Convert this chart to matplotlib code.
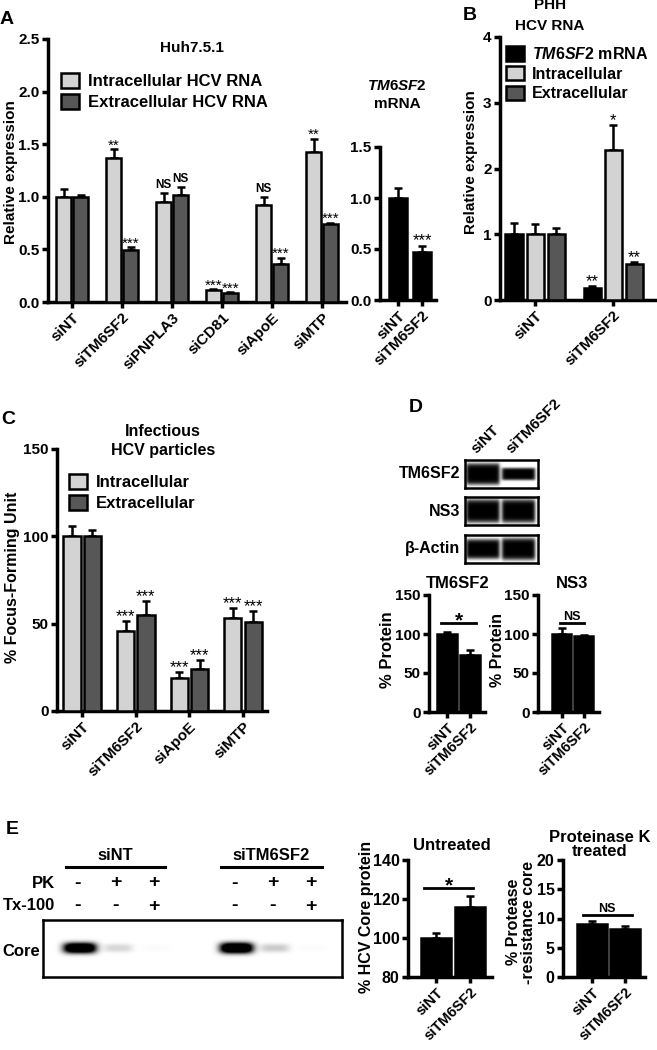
import numpy as np
import matplotlib
matplotlib.use("Agg")
import matplotlib.pyplot as plt
from matplotlib.transforms import blended_transform_factory

plt.rcParams["font.family"] = ["Liberation Sans", "DejaVu Sans"]
plt.rcParams["font.weight"] = "bold"
plt.rcParams["axes.labelweight"] = "bold"
plt.rcParams["mathtext.fontset"] = "custom"
plt.rcParams["mathtext.it"] = "Liberation Sans:italic:bold"
plt.rcParams["mathtext.rm"] = "Liberation Sans:bold"

LIGHT = "#d3d3d3"
DARK = "#575757"

# ---- panel A: Huh7.5.1 HCV RNA
a_groups = ["siNT", "siTM6SF2", "siPNPLA3", "siCD81", "siApoE", "siMTP"]
a_intra = [1.00, 1.37, 0.95, 0.11, 0.92, 1.43]
a_intra_err = [0.07, 0.08, 0.085, 0.01, 0.08, 0.12]
a_extra = [1.00, 0.49, 1.02, 0.086, 0.365, 0.74]
a_extra_err = [0.02, 0.03, 0.07, 0.005, 0.055, 0.01]
a_intra_sig = ["", "**", "NS", "***", "NS", "**"]
a_extra_sig = ["", "***", "NS", "***", "***", "***"]

# TM6SF2 mRNA inset
m_groups = ["siNT", "siTM6SF2"]
m_vals = [1.00, 0.47]
m_err = [0.10, 0.055]
m_sig = ["", "***"]

# ---- panel B: PHH
b_groups = ["siNT", "siTM6SF2"]
b_mrna = [1.00, 0.19]
b_mrna_err = [0.17, 0.025]
b_intra = [1.00, 2.28]
b_intra_err = [0.16, 0.38]
b_extra = [1.00, 0.55]
b_extra_err = [0.10, 0.03]
b_mrna_sig = ["", "**"]
b_intra_sig = ["", "*"]
b_extra_sig = ["", "**"]

# ---- panel C: infectious particles
c_groups = ["siNT", "siTM6SF2", "siApoE", "siMTP"]
c_intra = [100, 46, 19, 53]
c_intra_err = [6, 5.5, 3.5, 6]
c_extra = [100, 55, 24, 51]
c_extra_err = [3.5, 8, 5, 6.5]
c_intra_sig = ["", "***", "***", "***"]
c_extra_sig = ["", "***", "***", "***"]

# ---- panel D: western quantification
d_groups = ["siNT", "siTM6SF2"]
d_tm6_vals = [100, 73.7]
d_tm6_err = [2.8, 5.6]
d_ns3_vals = [100, 97.7]
d_ns3_err = [7.5, 1.3]
d_blot_rows = ["TM6SF2", "NS3", "\u03b2-Actin"]
d_band_thick = [[0.78, 0.45], [0.85, 0.85], [0.72, 0.80]]

# ---- panel E: protease protection
e_groups = ["siNT", "siTM6SF2"]
e_pk = ["-", "+", "+", "-", "+", "+"]
e_tx = ["-", "-", "+", "-", "-", "+"]
e_core_band = [0.95, 0.10, 0.01, 1.00, 0.13, 0.01]
e_untr_vals = [100, 116]
e_untr_err = [2.6, 5.5]
e_pk_vals = [9.14, 8.17]
e_pk_err = [0.5, 0.6]

W, H = 657, 1050
fig = plt.figure(figsize=(W / 100, H / 100), dpi=100)


def px_axes(l, t, r, b):
    return fig.add_axes([l / W, 1 - b / H, (r - l) / W, (b - t) / H])


def ftext(x, y, s, **kw):
    kw.setdefault("ha", "center")
    kw.setdefault("va", "center")
    kw.setdefault("fontweight", "bold")
    return fig.text(x / W, 1 - y / H, s, **kw)


def style(ax, fs=11):
    for s in ["top", "right"]:
        ax.spines[s].set_visible(False)
    for s in ["left", "bottom"]:
        ax.spines[s].set_linewidth(2.5)
    ax.tick_params(width=2.5, length=4.5, labelsize=fs, pad=1.5)


def bars(ax, x, vals, err, color, width, sig=None, fs=12):
    b = ax.bar(x, vals, width, color=color, edgecolor="black", linewidth=1.8, zorder=3)
    ax.errorbar(x, vals, yerr=[np.zeros(len(vals)), err], fmt="none", ecolor="black",
                elinewidth=1.8, capsize=3, capthick=1.8, zorder=2)
    if sig is not None:
        span = ax.get_ylim()[1] - ax.get_ylim()[0]
        for xi, v, e, s in zip(x, vals, err, sig):
            if s == "NS":
                ax.text(xi, v + e + span * 0.008, s, ha="center", va="bottom",
                        fontsize=8.5, fontweight="bold", zorder=4)
            elif s:
                ax.text(xi, v + e - span * 0.012, s, ha="center", va="bottom",
                        fontsize=fs, fontweight="normal", zorder=4)
    return b


def xlabels(ax, labels, fs=11):
    ax.set_xticks(np.arange(len(labels)))
    ax.set_xticklabels(labels, rotation=45, ha="right", rotation_mode="anchor", fontsize=fs)


def sig_bracket(ax, x0, x1, y, s, fs=11):
    ax.plot([x0, x1], [y, y], color="black", lw=2, clip_on=False)
    if s == "NS":
        ax.text((x0 + x1) / 2, y, s, ha="center", va="bottom", fontsize=fs, fontweight="bold")
    else:
        span = ax.get_ylim()[1] - ax.get_ylim()[0]
        ax.text((x0 + x1) / 2, y - span * 0.06, s, ha="center", va="bottom", fontsize=fs,
                fontweight="bold")


# ================= A =================
ax = px_axes(48, 39, 346, 302)
ax.set_ylim(0, 2.5)
ax.set_xlim(-0.48, 5.48)
style(ax)
x = np.arange(len(a_groups))
h1 = bars(ax, x - 0.17, a_intra, a_intra_err, LIGHT, 0.29, a_intra_sig, fs=11)
h2 = bars(ax, x + 0.17, a_extra, a_extra_err, DARK, 0.29, a_extra_sig, fs=11)
ax.set_yticks([0, 0.5, 1.0, 1.5, 2.0, 2.5])
ax.set_yticklabels(["0.0", "0.5", "1.0", "1.5", "2.0", "2.5"])
xlabels(ax, a_groups)
ax.legend([h1, h2], ["Intracellular HCV RNA", "Extracellular HCV RNA"], loc="upper left",
          bbox_to_anchor=(61 / W, 1 - 73 / H), bbox_transform=fig.transFigure, frameon=False,
          fontsize=12, handlelength=1.1, handleheight=1.0, handletextpad=0.5,
          labelspacing=0.3, borderpad=0, borderaxespad=0)
ftext(192, 48, "Huh7.5.1", fontsize=11)
ftext(11, 172, "Relative expression", rotation=90, fontsize=11)
ftext(7, 19, "A", fontsize=14)

# TM6SF2 mRNA inset
ax = px_axes(380, 147, 436, 300)
ax.set_ylim(0, 1.5)
ax.set_xlim(-0.75, 1.58)
style(ax)
bars(ax, np.arange(2), m_vals, m_err, "black", 0.75, m_sig)
ax.set_yticks([0, 0.5, 1.0, 1.5])
ax.set_yticklabels(["0.0", "0.5", "1.0", "1.5"])
xlabels(ax, m_groups)
ftext(397, 86, r"$\it{TM6SF2}$", fontsize=11)
ftext(397, 104, "mRNA", fontsize=11)

# ================= B =================
ax = px_axes(500, 37, 657, 300)
ax.set_ylim(0, 4)
ax.set_xlim(-0.45, 1.56)
style(ax)
x = np.arange(2)
g1 = bars(ax, x - 0.27, b_mrna, b_mrna_err, "black", 0.22, b_mrna_sig)
g2 = bars(ax, x, b_intra, b_intra_err, LIGHT, 0.22, b_intra_sig)
g3 = bars(ax, x + 0.27, b_extra, b_extra_err, DARK, 0.22, b_extra_sig)
ax.set_yticks([0, 1, 2, 3, 4])
xlabels(ax, b_groups)
ax.legend([g1, g2, g3], [r"$\it{TM6SF2}$ mRNA", "Intracellular", "Extracellular"],
          loc="upper left", bbox_to_anchor=(506 / W, 1 - 46 / H), bbox_transform=fig.transFigure,
          frameon=False, fontsize=11.5, handlelength=1.1, handleheight=1.0, handletextpad=0.5,
          labelspacing=0.25, borderpad=0, borderaxespad=0)
ftext(550, 5, "PHH", fontsize=11)
ftext(550, 26, "HCV RNA", fontsize=11)
ftext(471, 162, "Relative expression", rotation=90, fontsize=11)
ftext(470, 16, "B", fontsize=14)

# ================= C =================
ax = px_axes(57, 449, 267, 711)
ax.set_ylim(0, 150)
ax.set_xlim(-0.47, 3.45)
style(ax, 11)
x = np.arange(len(c_groups))
k1 = bars(ax, x - 0.19, c_intra, c_intra_err, LIGHT, 0.32, c_intra_sig)
k2 = bars(ax, x + 0.19, c_extra, c_extra_err, DARK, 0.32, c_extra_sig)
ax.set_yticks([0, 50, 100, 150])
xlabels(ax, c_groups, 11)
ax.legend([k1, k2], ["Intracellular", "Extracellular"], loc="upper left",
          bbox_to_anchor=(69 / W, 1 - 474 / H), bbox_transform=fig.transFigure, frameon=False,
          fontsize=12, handlelength=1.1, handleheight=1.0, handletextpad=0.5,
          labelspacing=0.3, borderpad=0, borderaxespad=0)
ftext(163, 432, "Infectious", fontsize=11.5)
ftext(163, 451, "HCV particles", fontsize=11.5)
ftext(13, 577, "% Focus-Forming Unit", rotation=90, fontsize=11.5)
ftext(8, 419, "C", fontsize=14)

# ================= D blots =================
def blot_image(thick, nw=220, nh=84):
    img = np.ones((nh, nw))
    xs = np.linspace(0, 1, nw)
    ys = np.linspace(-1, 1, nh)
    for i, t in enumerate(thick):
        x0, x1 = 0.02 + i * 0.49, 0.47 + i * 0.49
        hp = 1 / (1 + np.exp(-(xs - x0) / 0.012)) / (1 + np.exp((xs - x1) / 0.012))
        vp = np.exp(-(np.abs(ys) / t) ** 6)
        img -= np.outer(vp, hp)
    return np.clip(img, 0, 1)


row_px = [(460, 488), (497, 525), (535, 563)]
for name, th, (t, b) in zip(d_blot_rows, d_band_thick, row_px):
    bx = px_axes(465, t, 538, b)
    bx.imshow(blot_image(th), cmap="gray", vmin=0, vmax=1, aspect="auto",
              interpolation="bilinear")
    bx.set_xticks([])
    bx.set_yticks([])
    for s in bx.spines.values():
        s.set_linewidth(1.8)
    ftext(460, (t + b) / 2, name, ha="right", fontsize=11.5)
ftext(479, 456, "siNT", rotation=45, ha="left", va="bottom", rotation_mode="anchor", fontsize=11)
ftext(514, 456, "siTM6SF2", rotation=45, ha="left", va="bottom", rotation_mode="anchor",
      fontsize=11)
ftext(416, 407, "D", fontsize=14)

# D quantification
ax = px_axes(429, 595, 485, 712)
ax.set_ylim(0, 150)
ax.set_xlim(-0.78, 1.65)
style(ax, 11)
bars(ax, np.arange(2), d_tm6_vals, d_tm6_err, "black", 0.83)
ax.set_yticks([0, 50, 100, 150])
xlabels(ax, d_groups, 10.5)
sig_bracket(ax, -0.25, 1.25, 114, "*", 15)
ftext(458, 584, "TM6SF2", fontsize=12)
ftext(387, 650, "% Protein", rotation=90, fontsize=12)

ax = px_axes(538, 595, 599, 712)
ax.set_ylim(0, 150)
ax.set_xlim(-1.09, 1.7)
style(ax, 11)
bars(ax, np.arange(2), d_ns3_vals, d_ns3_err, "black", 0.86)
ax.set_yticks([0, 50, 100, 150])
xlabels(ax, d_groups, 10.5)
sig_bracket(ax, -0.1, 1.0, 114, "NS", 9)
ftext(572, 584, "NS3", fontsize=12)
ftext(497, 650, "% Protein", rotation=90, fontsize=11.5)

# ================= E blot =================
lane_x = np.array([0, 1, 2, 4.1, 5.1, 6.1])
bx = px_axes(43, 920, 342, 977)
nx, ny = 600, 114
gx = np.linspace(-0.89, 6.92, nx)
gy = np.linspace(0, 1, ny)
core = np.ones((ny, nx))
for lx, inten in zip(lane_x, e_core_band):
    hp = np.exp(-(np.abs(gx - lx - 0.07) / (0.38 + 0.06 * inten)) ** 4)
    vp = np.exp(-(np.abs(gy - 0.5) / (0.07 + 0.025 * inten)) ** 2.5)
    core -= 1.6 * inten * np.outer(vp, hp)
bx.imshow(np.clip(core, 0, 1), cmap="gray", vmin=0, vmax=1, aspect="auto",
          extent=[-0.89, 6.92, 0, 1], interpolation="bilinear")
bx.set_xlim(-0.89, 6.92)
bx.set_ylim(0, 1)
bx.set_xticks([])
bx.set_yticks([])
for s in bx.spines.values():
    s.set_linewidth(1.8)
tr = blended_transform_factory(bx.transData, fig.transFigure)
for lx, p, t in zip(lane_x, e_pk, e_tx):
    fig.text(lx, 1 - 883 / H, p, transform=tr, ha="center", va="center", fontsize=14,
             fontweight="bold")
    fig.text(lx, 1 - 906 / H, t, transform=tr, ha="center", va="center", fontsize=14,
             fontweight="bold")
for g, c0, c1 in zip(e_groups, [-0.3, 3.75], [2.3, 6.4]):
    fig.add_artist(plt.Line2D([c0, c1], [1 - 867 / H] * 2, transform=tr, color="black", lw=2.2))
    fig.text((c0 + c1) / 2, 1 - 856 / H, g, transform=tr, ha="center", va="center",
             fontsize=12, fontweight="bold")
ftext(55, 883, "PK", ha="right", fontsize=12)
ftext(55, 906, "Tx-100", ha="right", fontsize=12)
ftext(40, 951, "Core", ha="right", fontsize=12)
ftext(12, 830, "E", fontsize=14)

# E quantification: untreated
ax = px_axes(408, 860, 492, 977)
ax.set_ylim(80, 140)
ax.set_xlim(-0.82, 1.65)
style(ax, 11.5)
bars(ax, np.arange(2), e_untr_vals, e_untr_err, "black", 0.88)
ax.set_yticks([80, 100, 120, 140])
xlabels(ax, e_groups, 10.5)
sig_bracket(ax, -0.35, 1.1, 125.5, "*", 15)
ftext(452, 846, "Untreated", fontsize=12)
ftext(366, 917, "% HCV Core protein", rotation=90, fontsize=11.5)

# proteinase K treated
ax = px_axes(563, 860, 645, 977)
ax.set_ylim(0, 20)
ax.set_xlim(-0.88, 1.6)
style(ax, 11.5)
bars(ax, np.arange(2), e_pk_vals, e_pk_err, "black", 0.9)
ax.set_yticks([0, 5, 10, 15, 20])
xlabels(ax, e_groups, 10.5)
sig_bracket(ax, -0.28, 1.2, 10.6, "NS", 9)
ftext(600, 838, "Proteinase K", fontsize=12)
ftext(600, 851, "treated", fontsize=12)
ftext(521, 922, "% Protease\n-resistance core", rotation=90, fontsize=11.5, linespacing=1.0)

fig.savefig("out.png", dpi=100)
